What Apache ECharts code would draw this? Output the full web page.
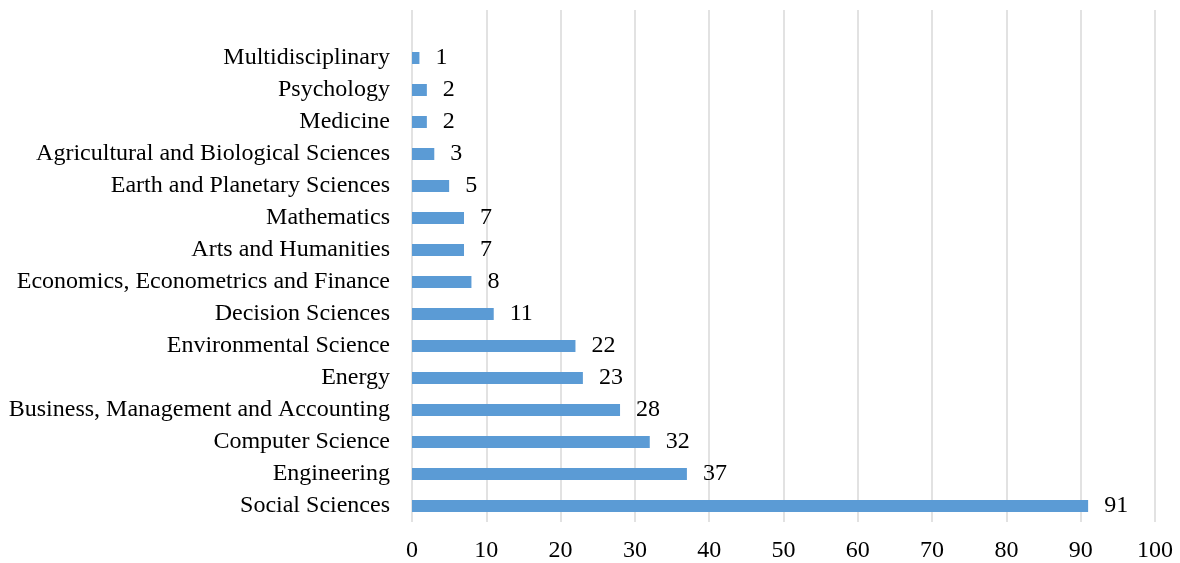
<!DOCTYPE html>
<html>
<head>
<meta charset="utf-8">
<script src="https://cdn.jsdelivr.net/npm/echarts@6/dist/echarts.min.js"></script>
<style>
  html, body { margin: 0; padding: 0; background: #fff; }
  #chart { width: 1180px; height: 563px; }
</style>
</head>
<body>
<div id="chart"></div>
<script>
// Subject areas, listed bottom to top as the category axis draws them
const categories = [
  'Social Sciences',
  'Engineering',
  'Computer Science',
  'Business, Management and Accounting',
  'Energy',
  'Environmental Science',
  'Decision Sciences',
  'Economics, Econometrics and Finance',
  'Arts and Humanities',
  'Mathematics',
  'Earth and Planetary Sciences',
  'Agricultural and Biological Sciences',
  'Medicine',
  'Psychology',
  'Multidisciplinary'
];

// Document counts per subject area
const counts = [91, 37, 32, 28, 23, 22, 11, 8, 7, 7, 5, 3, 2, 2, 1];

// Value axis ticks
const xTicks = [0, 10, 20, 30, 40, 50, 60, 70, 80, 90, 100];

const font = '"Liberation Serif", "Times New Roman", serif';

const chart = echarts.init(document.getElementById('chart'), null, { renderer: 'canvas' });

chart.setOption({
  animation: false,
  backgroundColor: '#ffffff',
  grid: { left: 412, right: 25, top: 10, bottom: 41, containLabel: false },
  xAxis: {
    type: 'value',
    min: xTicks[0],
    max: xTicks[xTicks.length - 1],
    interval: xTicks[1] - xTicks[0],
    axisLine: { show: false },
    axisTick: { show: false },
    axisLabel: { color: '#000', fontFamily: font, fontSize: 24, margin: 17 },
    splitLine: { show: true, lineStyle: { color: '#d9d9d9', width: 1.5 } }
  },
  yAxis: {
    type: 'category',
    data: categories,
    // one extra empty band above the last category
    max: categories.length,
    axisLine: { show: false },
    axisTick: { show: false },
    axisLabel: { color: '#000', fontFamily: font, fontSize: 24, margin: 22 },
    splitLine: { show: false }
  },
  series: [{
    type: 'bar',
    data: counts,
    barWidth: 12,
    itemStyle: { color: '#5b9bd5' },
    label: {
      show: true,
      position: 'right',
      distance: 16,
      color: '#000',
      fontFamily: font,
      fontSize: 24
    }
  }]
});
</script>
</body>
</html>
